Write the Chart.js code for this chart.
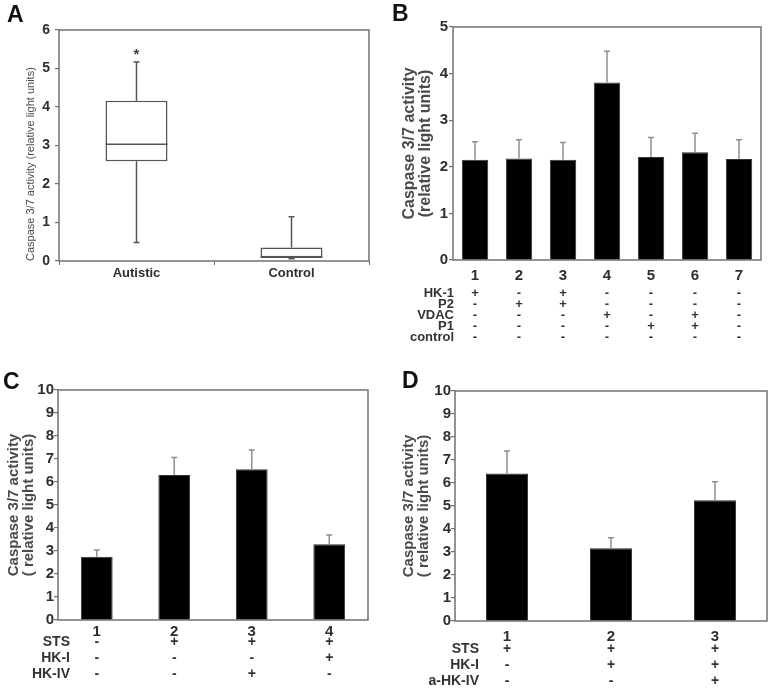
<!DOCTYPE html>
<html>
<head>
<meta charset="utf-8">
<script src="https://cdn.jsdelivr.net/npm/chart.js@4.4.1/dist/chart.umd.min.js"></script>
<style>
    body { margin: 0; background: #fff; width: 781px; height: 692px; position: relative; overflow: hidden; }
    .panel { position: absolute; }
    .tag { position: absolute; font: bold 23px Arial, "Liberation Sans", sans-serif; line-height: 1; color: #111; }
</style>
</head>
<body>
<div class="panel" style="left:0;top:0"><canvas id="box-chart" width="390" height="300"></canvas></div>
<div class="panel" style="left:390px;top:0"><canvas id="peptide-chart" width="391" height="360"></canvas></div>
<div class="panel" style="left:0;top:360px"><canvas id="sts-hk4-chart" width="390" height="332"></canvas></div>
<div class="panel" style="left:390px;top:360px"><canvas id="sts-ahk4-chart" width="391" height="332"></canvas></div>
<div class="tag" style="left:7px;top:3px">A</div>
<div class="tag" style="left:392px;top:2px">B</div>
<div class="tag" style="left:3px;top:370px">C</div>
<div class="tag" style="left:402px;top:369px">D</div>
<script>
// Panel A : box plot
const boxGroups = ['Autistic', 'Control'];
const boxLow = [0.48, 0.06];
const boxQ1 = [2.59, 0.10];
const boxMedian = [3.03, 0.10];
const boxQ3 = [4.16, 0.35];
const boxHigh = [5.17, 1.15];
const boxMarks = ['*', ''];

// Panel B
const lanesB = ['1', '2', '3', '4', '5', '6', '7'];
const meanB = [2.15, 2.18, 2.15, 3.81, 2.21, 2.31, 2.17];
const semB = [0.39, 0.40, 0.37, 0.67, 0.42, 0.41, 0.41];
const rowsB = ['HK-1', 'P2', 'VDAC', 'P1', 'control'];
const signsB = [
    ['+', '-', '+', '-', '-', '-', '-'],
    ['-', '+', '+', '-', '-', '-', '-'],
    ['-', '-', '-', '+', '-', '+', '-'],
    ['-', '-', '-', '-', '+', '+', '-'],
    ['-', '-', '-', '-', '-', '-', '-']
];

// Panel C
const lanesC = ['1', '2', '3', '4'];
const meanC = [2.75, 6.30, 6.55, 3.29];
const semC = [0.29, 0.77, 0.84, 0.41];
const rowsC = ['STS', 'HK-I', 'HK-IV'];
const signsC = [
    ['-', '+', '+', '+'],
    ['-', '-', '-', '+'],
    ['-', '-', '+', '-']
];

// Panel D
const lanesD = ['1', '2', '3'];
const meanD = [6.41, 3.16, 5.25];
const semD = [0.98, 0.46, 0.80];
const rowsD = ['STS', 'HK-I', 'a-HK-IV'];
const signsD = [
    ['+', '+', '+'],
    ['-', '+', '+'],
    ['-', '-', '+']
];

const FONT = 'Arial, "Liberation Sans", sans-serif';
Chart.defaults.font.family = FONT;
Chart.defaults.color = '#333';
Chart.defaults.animation = false;
Chart.defaults.plugins.legend.display = false;
Chart.defaults.plugins.tooltip.enabled = false;

// grey box around the plot area
const framePlugin = {
    id: 'frame',
    beforeDatasetsDraw(chart) {
        const { ctx, chartArea: a } = chart;
        ctx.save();
        ctx.strokeStyle = '#707070';
        ctx.lineWidth = 1.5;
        ctx.strokeRect(a.left, a.top, a.right - a.left, a.bottom - a.top);
        ctx.restore();
    }
};

// upper error bars only
const errorBarPlugin = {
    id: 'errorBars',
    afterDatasetsDraw(chart, args, opts) {
        const { ctx, scales: { y } } = chart;
        const values = chart.data.datasets[0].data;
        ctx.save();
        ctx.strokeStyle = '#8f8f8f';
        ctx.lineWidth = 1.5;
        chart.getDatasetMeta(0).data.forEach((bar, i) => {
            const top = y.getPixelForValue(values[i] + opts.errors[i]);
            ctx.beginPath();
            ctx.moveTo(bar.x, bar.y);
            ctx.lineTo(bar.x, top);
            ctx.moveTo(bar.x - 3, top);
            ctx.lineTo(bar.x + 3, top);
            ctx.stroke();
        });
        ctx.restore();
    }
};

// +/- table under the x axis
const treatmentPlugin = {
    id: 'treatments',
    afterDraw(chart, args, opts) {
        const { ctx, chartArea: a, scales: { x } } = chart;
        ctx.save();
        ctx.font = 'bold ' + opts.size + 'px ' + FONT;
        ctx.fillStyle = '#333';
        ctx.textBaseline = 'middle';
        opts.rows.forEach((name, r) => {
            const yy = a.bottom + opts.first + r * opts.gap;
            ctx.textAlign = 'right';
            ctx.fillText(name, a.left + opts.labelX, yy);
            ctx.textAlign = 'center';
            opts.signs[r].forEach((s, i) => ctx.fillText(s, x.getPixelForValue(i), yy));
        });
        ctx.restore();
    }
};

// whiskers, medians and the star for the box plot
const whiskerPlugin = {
    id: 'whiskers',
    afterDatasetsDraw(chart) {
        const { ctx, scales: { y } } = chart;
        ctx.save();
        ctx.strokeStyle = '#555';
        ctx.lineWidth = 1.5;
        const line = (x1, y1, x2, y2) => {
            ctx.beginPath();
            ctx.moveTo(x1, y1);
            ctx.lineTo(x2, y2);
            ctx.stroke();
        };
        chart.getDatasetMeta(0).data.forEach((bar, i) => {
            const half = bar.width / 2;
            const med = y.getPixelForValue(boxMedian[i]);
            const hi = y.getPixelForValue(boxHigh[i]);
            const lo = y.getPixelForValue(boxLow[i]);
            line(bar.x - half, med, bar.x + half, med);
            line(bar.x, y.getPixelForValue(boxQ3[i]), bar.x, hi);
            line(bar.x - 3, hi, bar.x + 3, hi);
            line(bar.x, y.getPixelForValue(boxQ1[i]), bar.x, lo);
            line(bar.x - 3, lo, bar.x + 3, lo);
            if (boxMarks[i]) {
                ctx.fillStyle = '#444';
                ctx.font = 'bold 15px ' + FONT;
                ctx.textAlign = 'center';
                ctx.textBaseline = 'middle';
                ctx.fillText(boxMarks[i], bar.x, hi - 7);
            }
        });
        ctx.restore();
    }
};

// shared y axis builder
function yAxis(max, width, title, titleFont, titlePad, tickPad, tickSize, align) {
    return {
        min: 0,
        max: max,
        afterFit: (s) => { s.width = width; },
        ticks: { stepSize: 1, padding: tickPad, color: '#2e2e2e', font: { size: tickSize, weight: 'bold' } },
        grid: { drawOnChartArea: false, tickLength: 4, color: '#707070', lineWidth: 1.2 },
        border: { display: false },
        title: {
            display: true,
            text: title,
            color: '#4a4a4a',
            align: align || 'center',
            font: titleFont,
            padding: { top: titlePad, bottom: 0 }
        }
    };
}

function xAxis(height, pad, tickSize, ticksOn) {
    return {
        afterFit: (s) => { s.height = height; },
        ticks: { padding: pad, color: '#2e2e2e', font: { size: tickSize, weight: 'bold' } },
        grid: { display: !!ticksOn, drawOnChartArea: false, offset: true, tickLength: 4, color: '#707070' },
        border: { display: false }
    };
}

// A : box plot
new Chart(document.querySelector('#box-chart'), {
    type: 'bar',
    data: {
        labels: boxGroups,
        datasets: [{
            data: boxQ1.map((q, i) => [q, boxQ3[i]]),
            backgroundColor: '#fff',
            borderColor: '#555',
            borderWidth: 1.5,
            borderSkipped: false,
            barPercentage: 0.4,
            categoryPercentage: 1
        }]
    },
    options: {
        responsive: false,
        layout: { padding: { left: 0, right: 21, top: 30, bottom: 0 } },
        scales: {
            x: xAxis(39, 1, 13, true),
            y: yAxis(6, 59, 'Caspase 3/7 activity (relative light units)',
                { size: 11, lineHeight: 1.2 }, 24, 5, 14, 'start')
        }
    },
    plugins: [framePlugin, whiskerPlugin]
});

// B : peptides
new Chart(document.querySelector('#peptide-chart'), {
    type: 'bar',
    data: {
        labels: lanesB,
        datasets: [{
            data: meanB,
            backgroundColor: '#000',
            borderColor: '#333',
            borderWidth: 1,
            barPercentage: 0.6,
            categoryPercentage: 1
        }]
    },
    options: {
        responsive: false,
        layout: { padding: { left: 0, right: 20, top: 27, bottom: 0 } },
        scales: {
            x: xAxis(100, 3, 15),
            y: yAxis(5, 63, ['Caspase 3/7 activity', '(relative light units)'],
                { size: 16, weight: 'bold', lineHeight: 1.0 }, 12, 1, 15)
        },
        plugins: {
            errorBars: { errors: semB },
            treatments: { rows: rowsB, signs: signsB, size: 13, first: 33, gap: 11, labelX: 1 }
        }
    },
    plugins: [framePlugin, errorBarPlugin, treatmentPlugin]
});

// C : STS with HK-I / HK-IV
new Chart(document.querySelector('#sts-hk4-chart'), {
    type: 'bar',
    data: {
        labels: lanesC,
        datasets: [{
            data: meanC,
            backgroundColor: '#000',
            borderColor: '#333',
            borderWidth: 1,
            barPercentage: 0.41,
            categoryPercentage: 1
        }]
    },
    options: {
        responsive: false,
        layout: { padding: { left: 0, right: 22, top: 30, bottom: 0 } },
        scales: {
            x: xAxis(72, -1, 15),
            y: yAxis(10, 58, ['Caspase 3/7 activity', '( relative light units)'],
                { size: 15, weight: 'bold', lineHeight: 0.95 }, 7, 0, 15)
        },
        plugins: {
            errorBars: { errors: semC },
            treatments: { rows: rowsC, signs: signsC, size: 14, first: 22.5, gap: 16, labelX: 12 }
        }
    },
    plugins: [framePlugin, errorBarPlugin, treatmentPlugin]
});

// D : STS with HK-I / anti HK-IV
new Chart(document.querySelector('#sts-ahk4-chart'), {
    type: 'bar',
    data: {
        labels: lanesD,
        datasets: [{
            data: meanD,
            backgroundColor: '#000',
            borderColor: '#333',
            borderWidth: 1,
            barPercentage: 0.405,
            categoryPercentage: 1
        }]
    },
    options: {
        responsive: false,
        layout: { padding: { left: 0, right: 14, top: 31, bottom: 0 } },
        scales: {
            x: xAxis(71, 3, 15),
            y: yAxis(10, 65, ['Caspase 3/7 activity', '( relative light units)'],
                { size: 15, weight: 'bold', lineHeight: 0.95 }, 12, 0, 15)
        },
        plugins: {
            errorBars: { errors: semD },
            treatments: { rows: rowsD, signs: signsD, size: 14, first: 28, gap: 16, labelX: 24 }
        }
    },
    plugins: [framePlugin, errorBarPlugin, treatmentPlugin]
});
</script>
</body>
</html>
